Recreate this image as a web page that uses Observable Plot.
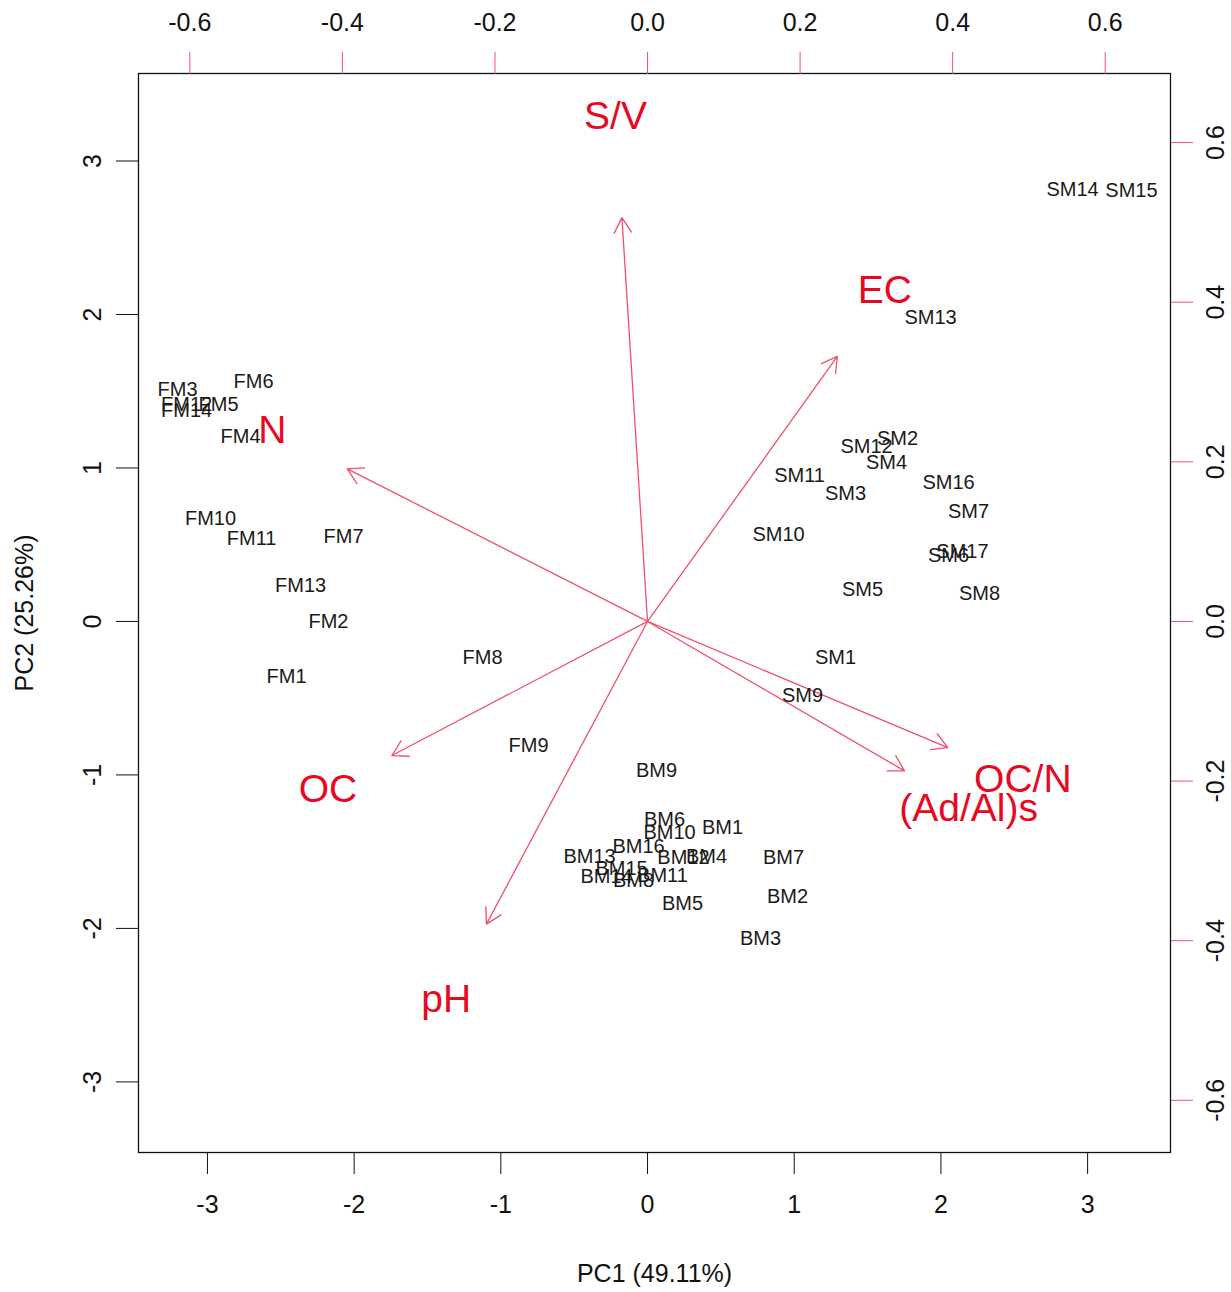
<!DOCTYPE html>
<html><head><meta charset="utf-8">
<script src="https://cdn.jsdelivr.net/npm/d3@7"></script>
<script src="https://cdn.jsdelivr.net/npm/@observablehq/plot@0.6"></script>
<style>body{margin:0;background:#fff}</style>
</head><body><div id="chart"></div>
<script>
// Sample scores (PC1, PC2)
const sampleNames = ["FM1","FM2","FM3","FM4","FM5","FM6","FM7","FM8","FM9","FM10","FM11","FM12","FM13","FM14",
  "SM1","SM2","SM3","SM4","SM5","SM6","SM7","SM8","SM9","SM10","SM11","SM12","SM13","SM14","SM15","SM16","SM17",
  "BM1","BM2","BM3","BM4","BM5","BM6","BM7","BM8","BM9","BM10","BM11","BM12","BM13","BM14","BM15","BM16"];
const pc1 = [-2.461,-2.175,-3.204,-2.774,-2.924,-2.686,-2.072,-1.125,-0.811,-2.979,-2.699,-3.142,-2.365,-3.142,
  1.282,1.704,1.350,1.629,1.466,2.052,2.188,2.263,1.057,0.893,1.036,1.493,1.929,2.897,3.299,2.052,2.147,
  0.511,0.954,0.770,0.402,0.239,0.116,0.927,-0.095,0.061,0.150,0.102,0.245,-0.395,-0.279,-0.177,-0.061];
const pc2 = [-0.358,0.000,1.511,1.205,1.414,1.564,0.554,-0.235,-0.808,0.671,0.541,1.414,0.235,1.375,
  -0.235,1.192,0.834,1.036,0.208,0.430,0.717,0.182,-0.482,0.567,0.951,1.140,1.980,2.814,2.808,0.906,0.456,
  -1.342,-1.792,-2.065,-1.531,-1.837,-1.290,-1.537,-1.687,-0.971,-1.375,-1.655,-1.537,-1.531,-1.661,-1.609,-1.466];

// Variable loadings (label positions, top/right scale)
const varNames = ["S/V","EC","N","OC/N","(Ad/Al)s","OC","pH"];
const load1 = [-0.042, 0.311, -0.492, 0.492, 0.421, -0.419, -0.264];
const load2 = [0.6325, 0.415, 0.239, -0.1975, -0.234, -0.21, -0.474];

const pcTicks = [-3,-2,-1,0,1,2,3];
const loadTicks = [-0.6,-0.4,-0.2,0,0.2,0.4,0.6];
const ratio = 5.2; // loading units -> PC units

const samples = sampleNames.map((n,i)=>({name:n, x:pc1[i], y:pc2[i]}));
const vars = varNames.map((n,i)=>({name:n, x:load1[i]*ratio, y:load2[i]*ratio}));

const red = "#e8081f";
const pink = "#f0506e";
const font = "'Liberation Sans', Arial, Helvetica, sans-serif";

const chart = Plot.plot({
  width: 1231, height: 1292,
  marginLeft: 138, marginRight: 61, marginTop: 73, marginBottom: 140,
  style: {fontFamily: font, fontSize: "25px", color: "#111", background: "#fff"},
  x: {domain: [-3.47, 3.565], axis: null},
  y: {domain: [-3.46, 3.57], axis: null},
  marks: [
    Plot.arrow(vars, {x1: d=>0, y1: d=>0, x2: d=>0.8*d.x, y2: d=>0.8*d.y, stroke: pink, strokeWidth: 1.3, headLength: 20, headAngle: 60}),
    Plot.text(samples, {x:"x", y:"y", text:"name", fontSize: 20, fill: "#1a1a1a"}),
    Plot.text(vars, {x:"x", y:"y", text:"name", fontSize: 39, fill: red}),
    Plot.frame({stroke: "#111", strokeWidth: 1.3}),
    Plot.axisX(pcTicks, {anchor:"bottom", tickSize: 22, tickPadding: 21, tickFormat: d=>String(d), fontSize: 25,
      label: "PC1 (49.11%)", labelAnchor: "center", labelArrow: "none", labelOffset: 129}),
    Plot.axisY(pcTicks, {anchor:"left", tickSize: 22, tickPadding: 16, tickRotate: -90, tickFormat: d=>String(d), fontSize: 25,
      label: "PC2 (25.26%)", labelAnchor: "center", labelArrow: "none", labelOffset: 123}),
    Plot.axisX(loadTicks.map(t=>t*ratio), {anchor:"top", tickSize: 22, tickPadding: 21, stroke: pink, fill: "#111",
      tickFormat: d=>(d/ratio).toFixed(1), fontSize: 25, label: null}),
    Plot.axisY(loadTicks.map(t=>t*ratio), {anchor:"right", tickSize: 22, tickPadding: 31, tickRotate: -90, stroke: pink, fill: "#111",
      tickFormat: d=>(d/ratio).toFixed(1), fontSize: 25, label: null})
  ]
});
document.getElementById("chart").appendChild(chart);
</script>
</body></html>
